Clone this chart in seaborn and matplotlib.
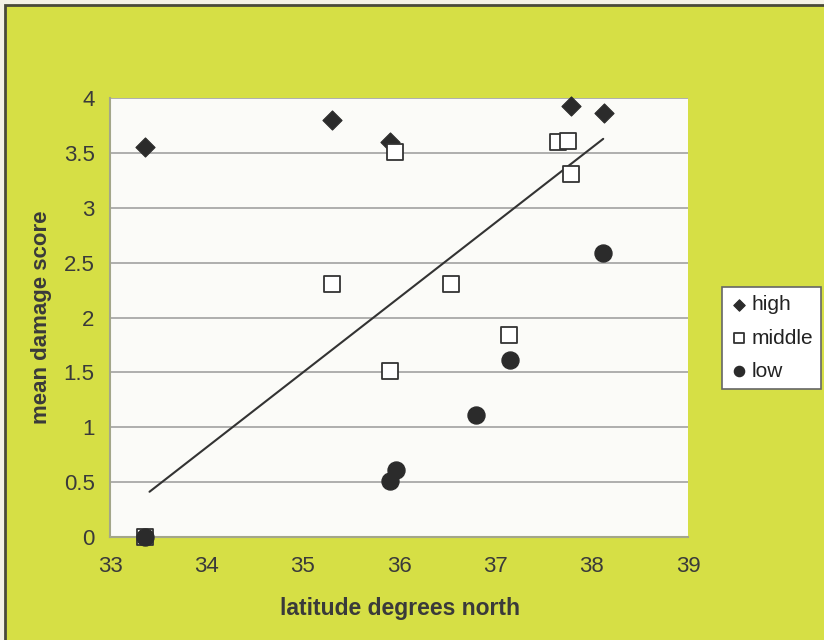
import pandas as pd
import matplotlib.pyplot as plt
import seaborn as sns
from matplotlib.patches import Rectangle

# values
high_lat = [33.36, 35.30, 35.91, 37.79, 38.13]
high_score = [3.56, 3.80, 3.60, 3.93, 3.87]

middle_lat = [33.36, 35.30, 35.91, 35.96, 36.54, 37.14, 37.65, 37.75, 37.79]
middle_score = [0.0, 2.31, 1.51, 3.51, 2.31, 1.84, 3.60, 3.61, 3.31]

low_lat = [33.36, 35.91, 35.97, 36.80, 37.15, 38.12]
low_score = [0.0, 0.51, 0.61, 1.11, 1.61, 2.59]

trend_lat = [33.41, 38.12]
trend_score = [0.41, 3.63]

groups = ['high', 'middle', 'low']

df = pd.concat([
    pd.DataFrame({'lat': high_lat, 'score': high_score, 'group': 'high'}),
    pd.DataFrame({'lat': middle_lat, 'score': middle_score, 'group': 'middle'}),
    pd.DataFrame({'lat': low_lat, 'score': low_score, 'group': 'low'}),
])
trend = pd.DataFrame({'lat': trend_lat, 'score': trend_score})

sns.set_style('white')
plt.rcParams['font.family'] = ['Liberation Sans', 'DejaVu Sans']

yellow = '#d6df45'
dark = '#2b2b2b'
text_col = '#3a3a3a'

fig = plt.figure(figsize=(8.24, 6.4), dpi=100)
fig.patch.set_facecolor('#f4f2e6')
# yellow panel with dark frame
fig.patches.append(Rectangle((5 / 824, -0.01), 1.0, 1 - 5 / 640 + 0.01,
                             transform=fig.transFigure, facecolor=yellow,
                             edgecolor='#4a4a3a', linewidth=2, zorder=-1))

ax = fig.add_axes([110 / 824, 103.3 / 640, 578 / 824, 438.4 / 640])
ax.set_zorder(1)
ax.set_facecolor('#fbfbf8')

# gridlines
ax.set_yticks([0, 0.5, 1, 1.5, 2, 2.5, 3, 3.5, 4])
ax.set_xticks([33, 34, 35, 36, 37, 38, 39])
ax.yaxis.grid(True, color='#9a9a9a', linewidth=1.1)
ax.set_axisbelow(True)

sns.lineplot(data=trend, x='lat', y='score', ax=ax, color='#333333',
             linewidth=1.5, zorder=2)

styles = {
    'high': dict(marker='D', s=95, color=dark, edgecolor=dark),
    'middle': dict(marker='s', s=125, color='white', edgecolor='#333333', linewidth=1.3),
    'low': dict(marker='o', s=150, color=dark, edgecolor=dark),
}
for g in groups:
    sns.scatterplot(data=df[df['group'] == g], x='lat', y='score', ax=ax,
                    label=g, zorder=3, clip_on=False, **styles[g])

ax.set_xlim(33, 39)
ax.set_ylim(0, 4)
ax.set_yticklabels(['0', '0.5', '1', '1.5', '2', '2.5', '3', '3.5', '4'])

for side in ['top', 'right']:
    ax.spines[side].set_visible(False)
for side in ['left', 'bottom']:
    ax.spines[side].set_color('#a3a68a')
    ax.spines[side].set_linewidth(1.5)
ax.tick_params(axis='both', direction='out', length=5, width=1.2,
               color='#a3a68a', labelsize=16, labelcolor=text_col)
ax.tick_params(axis='x', pad=9)
ax.tick_params(axis='y', pad=6)

ax.set_xlabel('latitude degrees north', fontsize=16.5, fontweight='bold', color=text_col)
ax.set_ylabel('mean damage score', fontsize=16, fontweight='bold', color=text_col)
ax.xaxis.set_label_coords(0.502, -0.138)
ax.yaxis.set_label_coords(-0.100, 0.5)

leg = ax.legend(loc='upper left', bbox_to_anchor=(722 / 824, 1 - 287 / 640),
                bbox_transform=fig.transFigure, frameon=True, fancybox=False,
                fontsize=15, handletextpad=0.2, handlelength=0.8,
                borderpad=0.4, labelspacing=0.68, borderaxespad=0,
                markerscale=0.6)
leg.get_frame().set_edgecolor('#666666')
leg.get_frame().set_linewidth(1.2)
leg.get_frame().set_facecolor('white')
leg.get_frame().set_alpha(1)
for t in leg.get_texts():
    t.set_color('#222222')

plt.savefig('out.png', dpi=100, facecolor=fig.get_facecolor())
plt.close()
